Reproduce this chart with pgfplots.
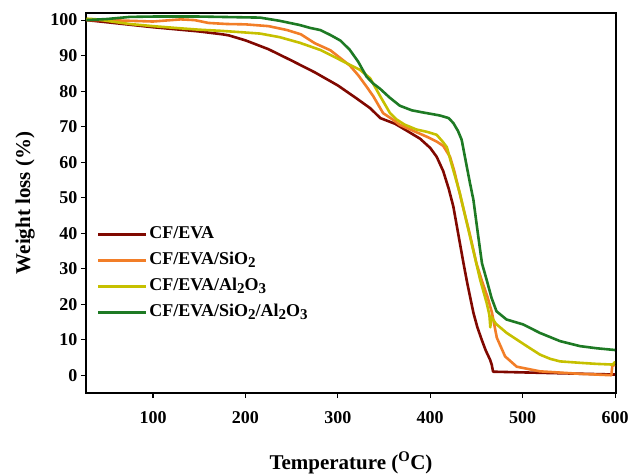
\documentclass[border=0pt]{standalone}
\usepackage{fontspec}
\setmainfont{Liberation Serif}
\usepackage{pgfplots}
\pgfplotsset{compat=1.18}
\definecolor{cRed}{RGB}{128,8,0}
\definecolor{cOrange}{RGB}{242,126,40}
\definecolor{cYellow}{RGB}{198,192,0}
\definecolor{cGreen}{RGB}{30,122,36}
\newcommand{\sub}[1]{\raisebox{-0.4ex}{\fontsize{15}{15}\selectfont #1}}
\begin{document}
\begin{tikzpicture}
\path[use as bounding box] (-86pt,-81pt) rectangle (546pt,393pt);
\begin{axis}[
  scale only axis,
  width=530pt, height=380pt,
  xmin=27.5, xmax=601, ymin=-5, ymax=102,
  xtick={100,200,...,600}, ytick={0,10,...,100},
  tick pos=left, tick align=outside,
  major tick length=5pt,
  tick style={line width=1.1pt, black},
  axis line style={line width=1.5pt},
  /pgf/number format/assume math mode=true,
  tick label style={font=\fontsize{18}{20}\selectfont\bfseries},
  xticklabel style={yshift=-10pt},
  xlabel={Temperature (\textsuperscript{O}C)},
  ylabel={Weight loss (\%)},
  label style={font=\fontsize{21}{24}\selectfont\bfseries},
  xlabel style={at={(axis description cs:0.5,-0.184)}, anchor=center},
  ylabel style={at={(axis description cs:-0.115,0.5)}, anchor=center},
  legend style={at={(axis description cs:0.02,0.445)}, anchor=north west,
    draw=none, fill=none, font=\fontsize{18}{20}\selectfont\bfseries,
    row sep=5pt, inner sep=0pt,
    nodes={text height=12pt, text depth=5pt, inner sep=2pt}},
  legend cell align=left,
  legend image code/.code={\draw[#1] (0pt,0pt) -- (40pt,0pt);\path (0pt,0pt) -- (48pt,0pt);},
  every axis plot/.append style={line width=2.6pt, line join=round},
]
\addplot[cRed] coordinates {
(28,100) (50,99.4) (75,98.7) (100,98.0) (125,97.4) (150,96.8) (175,96.0) (182,95.7)
(200,94.3) (225,91.8) (250,88.6) (275,85.3) (300,81.6) (320,78.0) (335,75.2) (346,72.4)
(352,71.8) (362,70.8) (375,68.8) (389,66.6) (400,64.0) (407,61.5) (414,57.5) (420,52.5)
(425,47.5) (430.5,39.5) (436,31.5) (440,26.0) (446.7,17.6) (451,13.5) (455.7,10.0)
(460,7.0) (464.7,4.4) (466.5,3.0) (468,1.0) (500,0.8) (550,0.5) (600,0.2)
};
\addlegendentry{CF/EVA}
\addplot[cOrange] coordinates {
(28,100) (50,100) (75,99.8) (100,99.6) (115,99.9) (130,100.2) (145,100.0) (160,99.2)
(180,98.9) (200,98.8) (225,98.3) (245,97.2) (260,96.0) (275,93.5) (292,91.5) (313,87.2)
(322,84.5) (331,81.3) (338.5,78.5) (349,73.8) (360,71.9) (367,70.5) (380,69.0) (396,67.2)
(407,65.8) (414,64.6) (421.4,61.5) (426,57.5) (435.8,47.0) (443,39.5) (450,31.5)
(456,26.5) (462,22.0) (466.8,17.6) (472,10.6) (481,5.3) (493.6,2.4) (518.8,1.1)
(562,0.4) (596,0.0) (597,2.7) (600,2.9)
};
\addlegendentry{CF/EVA/SiO\sub{2}}
\addplot[cYellow] coordinates {
(28,100.4) (40,100.2) (55,99.6) (75,98.9) (100,98.3) (129,97.7) (150,97.3) (172,97.0)
(195,96.6) (216,96.2) (237,95.2) (259,93.6) (270,92.6) (281,91.6) (295,89.8) (313,87.4)
(324,86.0) (335,83.6) (346,78.5) (356.5,73.8) (363.7,72.0) (372,70.6) (385,69.2)
(397,68.5) (407,67.7) (414,65.6) (418,64.2) (421.4,61.0) (432,51.3) (443,39.1)
(454,26.9) (461,20.4) (464,17.0) (465,13.5) (466,16.5) (471,14.5) (482.8,11.9)
(504.4,8.2) (518.8,5.8) (530,4.6) (540.5,3.9) (562,3.5) (580,3.2) (598,3.0) (599,3.6) (600,3.6)
};
\addlegendentry{CF/EVA/Al\sub{2}O\sub{3}}
\addplot[cGreen] coordinates {
(28,100) (50,100.3) (75,100.9) (100,101.0) (150,101.0) (194,100.8) (216,100.7) (237,99.8)
(259,98.6) (270,97.8) (281,97.2) (292,95.8) (303,94.2) (313,91.6) (322,88.3) (331,84.1)
(338,82.2) (346,80.6) (356,78.2) (367,75.9) (380,74.6) (392,74.0) (405,73.4) (411,73.1)
(420,72.4) (425,71.0) (430,68.8) (434,66.3) (439.5,58.8) (443,54.1) (446.7,49.4)
(452,39.0) (456,31.5) (461,26.9) (466.3,21.8) (471.7,18.0) (482.5,15.7) (500.6,14.3)
(518.8,11.9) (540.5,9.6) (562,8.2) (580,7.6) (600,7.1)
};
\addlegendentry{CF/EVA/SiO\sub{2}/Al\sub{2}O\sub{3}}
\end{axis}
\end{tikzpicture}
\end{document}
